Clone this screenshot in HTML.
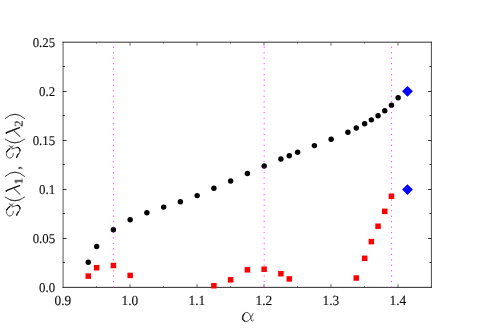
<!DOCTYPE html>
<html>
<head>
<meta charset="utf-8">
<title>Imaginary parts of eigenvalues vs alpha</title>
<style>
html,body{margin:0;padding:0;background:#ffffff;}
body{width:494px;height:330px;overflow:hidden;font-family:"Liberation Serif",serif;}
svg{display:block;}
text{font-family:"Liberation Serif",serif;fill:#0a0a0a;}
.tl{font-size:12.9px;text-rendering:geometricPrecision;stroke:#0a0a0a;stroke-width:0.1px;}
.tl,.lab{filter:url(#gs);}
</style>
</head>
<body>
<svg width="494" height="330" viewBox="0 0 494 330">
<defs><filter id="gs" x="-5%" y="-5%" width="110%" height="110%" color-interpolation-filters="sRGB"><feColorMatrix type="saturate" values="0"/></filter></defs>
<rect x="0" y="0" width="494" height="330" fill="#ffffff"/>

<g stroke="#111111" stroke-width="0.62" fill="none">
<line x1="96.50" y1="287.30" x2="96.50" y2="286.15"/>
<line x1="96.50" y1="42.40" x2="96.50" y2="43.55"/>
<line x1="130.00" y1="287.30" x2="130.00" y2="284.10"/>
<line x1="130.00" y1="42.40" x2="130.00" y2="45.60"/>
<line x1="163.50" y1="287.30" x2="163.50" y2="286.15"/>
<line x1="163.50" y1="42.40" x2="163.50" y2="43.55"/>
<line x1="197.00" y1="287.30" x2="197.00" y2="284.10"/>
<line x1="197.00" y1="42.40" x2="197.00" y2="45.60"/>
<line x1="230.50" y1="287.30" x2="230.50" y2="286.15"/>
<line x1="230.50" y1="42.40" x2="230.50" y2="43.55"/>
<line x1="264.00" y1="287.30" x2="264.00" y2="284.10"/>
<line x1="264.00" y1="42.40" x2="264.00" y2="45.60"/>
<line x1="297.50" y1="287.30" x2="297.50" y2="286.15"/>
<line x1="297.50" y1="42.40" x2="297.50" y2="43.55"/>
<line x1="331.00" y1="287.30" x2="331.00" y2="284.10"/>
<line x1="331.00" y1="42.40" x2="331.00" y2="45.60"/>
<line x1="364.50" y1="287.30" x2="364.50" y2="286.15"/>
<line x1="364.50" y1="42.40" x2="364.50" y2="43.55"/>
<line x1="398.00" y1="287.30" x2="398.00" y2="284.10"/>
<line x1="398.00" y1="42.40" x2="398.00" y2="45.60"/>
<line stroke-width="0.85" x1="63.00" y1="262.50" x2="64.90" y2="262.50"/>
<line stroke-width="0.85" x1="431.50" y1="262.50" x2="429.60" y2="262.50"/>
<line stroke-width="0.85" x1="63.00" y1="238.50" x2="66.50" y2="238.50"/>
<line stroke-width="0.85" x1="431.50" y1="238.50" x2="428.00" y2="238.50"/>
<line stroke-width="0.85" x1="63.00" y1="213.50" x2="64.90" y2="213.50"/>
<line stroke-width="0.85" x1="431.50" y1="213.50" x2="429.60" y2="213.50"/>
<line stroke-width="0.85" x1="63.00" y1="189.50" x2="66.50" y2="189.50"/>
<line stroke-width="0.85" x1="431.50" y1="189.50" x2="428.00" y2="189.50"/>
<line stroke-width="0.85" x1="63.00" y1="164.50" x2="64.90" y2="164.50"/>
<line stroke-width="0.85" x1="431.50" y1="164.50" x2="429.60" y2="164.50"/>
<line stroke-width="0.85" x1="63.00" y1="140.50" x2="66.50" y2="140.50"/>
<line stroke-width="0.85" x1="431.50" y1="140.50" x2="428.00" y2="140.50"/>
<line stroke-width="0.85" x1="63.00" y1="115.50" x2="64.90" y2="115.50"/>
<line stroke-width="0.85" x1="431.50" y1="115.50" x2="429.60" y2="115.50"/>
<line stroke-width="0.85" x1="63.00" y1="91.50" x2="66.50" y2="91.50"/>
<line stroke-width="0.85" x1="431.50" y1="91.50" x2="428.00" y2="91.50"/>
<line stroke-width="0.85" x1="63.00" y1="66.50" x2="64.90" y2="66.50"/>
<line stroke-width="0.85" x1="431.50" y1="66.50" x2="429.60" y2="66.50"/>
</g>
<g stroke="#111111" stroke-width="0.78" fill="none" stroke-linecap="square">
<line stroke-width="0.87" x1="63.05" y1="42.19" x2="431.3" y2="42.19"/>
<line stroke-width="0.9" x1="63.05" y1="287.36" x2="431.3" y2="287.36"/>
<line stroke-width="0.7" x1="63.08" y1="42.2" x2="63.08" y2="287.3"/>
<line x1="431.38" y1="42.2" x2="431.38" y2="287.3"/>
</g>
<g fill="#000000">
<circle cx="88.27" cy="262.22" r="2.72"/>
<circle cx="96.65" cy="246.52" r="2.72"/>
<circle cx="113.40" cy="229.82" r="2.72"/>
<circle cx="130.15" cy="219.82" r="2.72"/>
<circle cx="146.90" cy="212.82" r="2.72"/>
<circle cx="163.65" cy="207.12" r="2.72"/>
<circle cx="180.40" cy="201.72" r="2.72"/>
<circle cx="197.15" cy="195.62" r="2.72"/>
<circle cx="213.90" cy="188.32" r="2.72"/>
<circle cx="230.65" cy="181.02" r="2.72"/>
<circle cx="247.40" cy="173.42" r="2.72"/>
<circle cx="264.15" cy="165.92" r="2.72"/>
<circle cx="280.90" cy="158.92" r="2.72"/>
<circle cx="289.28" cy="155.72" r="2.72"/>
<circle cx="297.65" cy="152.22" r="2.72"/>
<circle cx="314.40" cy="145.62" r="2.72"/>
<circle cx="331.15" cy="139.22" r="2.72"/>
<circle cx="347.90" cy="132.22" r="2.72"/>
<circle cx="356.27" cy="127.97" r="2.72"/>
<circle cx="364.65" cy="123.72" r="2.72"/>
<circle cx="371.35" cy="119.87" r="2.72"/>
<circle cx="378.05" cy="115.77" r="2.72"/>
<circle cx="384.75" cy="110.82" r="2.72"/>
<circle cx="391.45" cy="105.22" r="2.72"/>
<circle cx="398.15" cy="97.82" r="2.72"/>
</g>
<g fill="#ff0000">
<rect x="85.52" y="273.37" width="5.5" height="5.5"/>
<rect x="93.90" y="264.97" width="5.5" height="5.5"/>
<rect x="110.65" y="262.77" width="5.5" height="5.5"/>
<rect x="127.40" y="272.67" width="5.5" height="5.5"/>
<rect x="211.15" y="282.97" width="5.5" height="5.5"/>
<rect x="227.90" y="277.07" width="5.5" height="5.5"/>
<rect x="244.65" y="267.07" width="5.5" height="5.5"/>
<rect x="261.40" y="266.47" width="5.5" height="5.5"/>
<rect x="278.15" y="270.97" width="5.5" height="5.5"/>
<rect x="286.53" y="276.17" width="5.5" height="5.5"/>
<rect x="353.52" y="275.27" width="5.5" height="5.5"/>
<rect x="361.90" y="255.57" width="5.5" height="5.5"/>
<rect x="368.60" y="238.87" width="5.5" height="5.5"/>
<rect x="375.30" y="223.47" width="5.5" height="5.5"/>
<rect x="382.00" y="208.57" width="5.5" height="5.5"/>
<rect x="388.70" y="193.47" width="5.5" height="5.5"/>
</g>
<g fill="#0000ff">
<path d="M402.09 91.35L407.49 85.95L412.89 91.35L407.49 96.75Z"/>
<path d="M402.09 189.55L407.49 184.15L412.89 189.55L407.49 194.95Z"/>
</g>
<g stroke="#ff00ff" stroke-width="0.74" stroke-dasharray="1.25 4.2" fill="none">
<line x1="113.40" y1="287.70" x2="113.40" y2="42.30"/>
<line x1="264.15" y1="287.70" x2="264.15" y2="42.30"/>
<line x1="391.45" y1="287.70" x2="391.45" y2="42.30"/>
</g>
<g class="tl" text-anchor="end">
<text transform="translate(55.2,46.65) scale(1,1.04)">0.25</text>
<text transform="translate(55.2,95.67) scale(1,1.04)">0.2</text>
<text transform="translate(55.2,144.69) scale(1,1.04)">0.15</text>
<text transform="translate(55.2,193.71) scale(1,1.04)">0.1</text>
<text transform="translate(55.2,242.73) scale(1,1.04)">0.05</text>
<text transform="translate(55.2,291.75) scale(1,1.04)">0.0</text>
</g>
<g class="tl" text-anchor="middle" style="font-size:13.4px">
<text transform="translate(62.95,304.8) scale(1,1.04)">0.9</text>
<text transform="translate(129.95,304.8) scale(1,1.04)">1.0</text>
<text transform="translate(196.95,304.8) scale(1,1.04)">1.1</text>
<text transform="translate(263.95,304.8) scale(1,1.04)">1.2</text>
<text transform="translate(330.95,304.8) scale(1,1.04)">1.3</text>
<text transform="translate(397.95,304.8) scale(1,1.04)">1.4</text>
</g>
<g fill="none" stroke="#1c1c1c" stroke-linecap="round" stroke-linejoin="round"><title>α</title>
<path stroke-width="0.75" d="M252.9 313.7C251.8 316.5 249.5 321.5 246 321.5C243.6 321.5 242.3 319.8 242.3 318C242.3 315 244.2 312.4 246.8 312.4C249.5 312.4 250.2 315.5 250.8 318C251.2 319.8 251.4 321.3 252.2 321.3C252.7 321.3 253 320.7 253.2 320"/>
<path stroke-width="1.25" d="M244.6 321C243.1 320.4 242.6 319 242.7 317.6C242.8 316 243.5 314.6 244.5 313.6"/>
</g>
<g><title>ℑ(λ1), ℑ(λ2)</title>
<g transform="translate(0,0)">
<g fill="none" stroke="#111" stroke-linecap="round" stroke-linejoin="round">
<path stroke-width="0.72" d="M13.4 211.4C13.4 213.6 12 216 9.8 216C7.6 216 6.3 213.8 6.3 211.6C6.3 209 8.3 207.4 10.2 206.2C11.4 205.4 12.5 204.4 13.1 203.6"/>
<path stroke-width="0.7" d="M9.1 203.7L12.6 205.9"/>
<path stroke-width="0.72" d="M12 206.9C13.5 206.9 15.5 205.2 17.5 205.3C19.3 205.4 20.2 207 20 209C19.8 211 17.4 213 16.6 215.4"/>
<path stroke-width="1.25" d="M7 209.6C7.6 208.4 8.6 207.4 9.6 206.7"/>
<path stroke-width="1.25" d="M17 205.4C18.8 205.3 20 206.6 20 208.6"/>
<path stroke-width="1.2" d="M18.4 211.8C17.6 212.8 17 214 16.7 215.2"/>
</g>
<path fill="none" stroke="#111" stroke-width="0.8" stroke-linecap="round" d="M5.2 197.1Q14.9 204.5 24.6 197.1"/>
<path fill="#111" d="M8 198.9Q14.9 203.4 21.8 198.9Q14.9 202.4 8 198.9Z"/>
<g fill="none" stroke="#111" stroke-linecap="round">
<path stroke-width="1.35" d="M6.4 191.3C6 191 6.1 190.6 6.8 190.4L19.6 185.6"/>
<path stroke-width="1.0" d="M14.4 189L20.1 194.5"/>
</g>
<text class="lab" transform="translate(22.6,184.5) rotate(-90)" font-size="13.4px" stroke="#111" stroke-width="0.18">1</text>
<path fill="none" stroke="#111" stroke-width="0.8" stroke-linecap="round" d="M5.2 176.4Q14.9 167.8 24.6 176.4"/>
<path fill="#111" d="M8 174.3Q14.9 169.1 21.8 174.3Q14.9 170.1 8 174.3Z"/>
<text class="lab" transform="translate(20.4,169.9) rotate(-90)" font-size="16px">,</text>
</g>
<g transform="translate(0,-57.9)">
<g fill="none" stroke="#111" stroke-linecap="round" stroke-linejoin="round">
<path stroke-width="0.72" d="M13.4 211.4C13.4 213.6 12 216 9.8 216C7.6 216 6.3 213.8 6.3 211.6C6.3 209 8.3 207.4 10.2 206.2C11.4 205.4 12.5 204.4 13.1 203.6"/>
<path stroke-width="0.7" d="M9.1 203.7L12.6 205.9"/>
<path stroke-width="0.72" d="M12 206.9C13.5 206.9 15.5 205.2 17.5 205.3C19.3 205.4 20.2 207 20 209C19.8 211 17.4 213 16.6 215.4"/>
<path stroke-width="1.25" d="M7 209.6C7.6 208.4 8.6 207.4 9.6 206.7"/>
<path stroke-width="1.25" d="M17 205.4C18.8 205.3 20 206.6 20 208.6"/>
<path stroke-width="1.2" d="M18.4 211.8C17.6 212.8 17 214 16.7 215.2"/>
</g>
<path fill="none" stroke="#111" stroke-width="0.8" stroke-linecap="round" d="M5.2 197.1Q14.9 204.5 24.6 197.1"/>
<path fill="#111" d="M8 198.9Q14.9 203.4 21.8 198.9Q14.9 202.4 8 198.9Z"/>
<g fill="none" stroke="#111" stroke-linecap="round">
<path stroke-width="1.35" d="M6.4 191.3C6 191 6.1 190.6 6.8 190.4L19.6 185.6"/>
<path stroke-width="1.0" d="M14.4 189L20.1 194.5"/>
</g>
<text class="lab" transform="translate(22.6,184.9) rotate(-90)" font-size="13.4px" stroke="#111" stroke-width="0.08">2</text>
<path fill="none" stroke="#111" stroke-width="0.8" stroke-linecap="round" d="M5.2 176.4Q14.9 167.8 24.6 176.4"/>
<path fill="#111" d="M8 174.3Q14.9 169.1 21.8 174.3Q14.9 170.1 8 174.3Z"/>
</g>
</g>
</svg>
</body>
</html>
